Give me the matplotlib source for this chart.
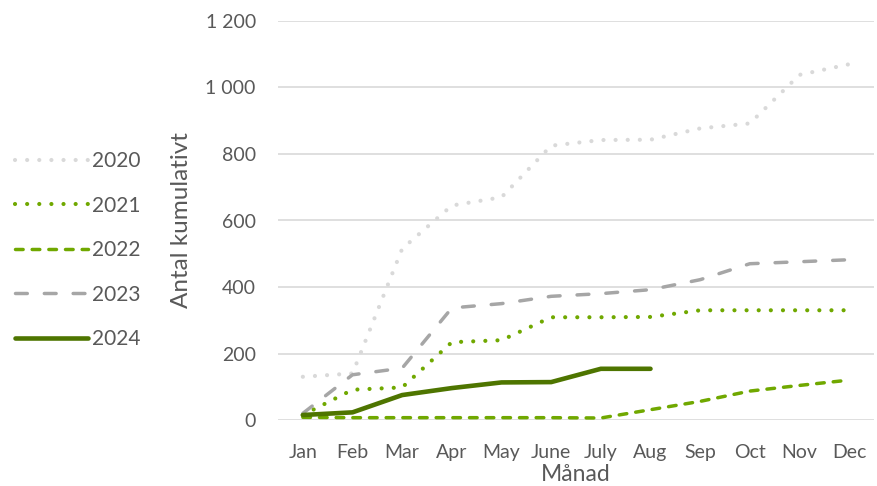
import matplotlib.pyplot as plt
from matplotlib.ticker import FuncFormatter

plt.rcParams['font.family'] = ['Lato', 'DejaVu Sans']

# data
months = ["Jan", "Feb", "Mar", "Apr", "May", "June", "July", "Aug", "Sep", "Oct", "Nov", "Dec"]
y2020 = [130, 140, 515, 645, 670, 825, 842, 843, 877, 892, 1038, 1070]
y2021 = [15, 91, 98, 234, 240, 309, 309, 310, 330, 330, 330, 330]
y2022 = [8, 7, 7, 7, 7, 7, 6, 31, 56, 87, 104, 120]
y2023 = [20, 136, 156, 337, 350, 372, 380, 392, 422, 470, 476, 482]
y2024 = [15, 23, 75, 96, 113, 114, 154, 154]

text_col = "#595959"
green = "#70A800"

fig = plt.figure(figsize=(8.77, 4.86), dpi=100)
ax = fig.add_axes([278 / 877, 66 / 486, 596 / 877, 399 / 486])

x = list(range(len(months)))
ax.plot(x, y2020, color="#D9D9D9", lw=3.0, linestyle=(0, (0.01, 2.9)),
        dash_capstyle="round", label="2020")
ax.plot(x, y2021, color=green, lw=3.0, linestyle=(0, (0.01, 2.9)),
        dash_capstyle="round", label="2021")
ax.plot(x, y2022, color=green, lw=2.5, linestyle=(0, (2.2, 2.6)),
        dash_capstyle="round", label="2022")
ax.plot(x, y2023, color="#A6A6A6", lw=2.5, linestyle=(0, (3.4, 4.9)),
        dash_capstyle="round", label="2023")
ax.plot(x[:len(y2024)], y2024, color="#4E7500", lw=3.3,
        solid_capstyle="round", label="2024")

ax.set_xlim(-0.5, 11.5)
ax.set_ylim(0, 1200)
ax.set_yticks(range(0, 1201, 200))
ax.yaxis.set_major_formatter(FuncFormatter(lambda v, p: f"{int(v):,}".replace(",", " ")))
ax.set_xticks(x)
ax.set_xticklabels(months)

for s in ax.spines.values():
    s.set_visible(False)
ax.grid(axis="y", color="#D9D9D9", lw=1.2)
ax.set_axisbelow(True)
ax.tick_params(length=0, labelsize=14, colors=text_col)
ax.tick_params(axis="y", pad=16)
ax.tick_params(axis="x", pad=17)

ax.set_ylabel("Antal kumulativt", fontsize=17.5, color=text_col, labelpad=10)
ax.set_xlabel("Månad", fontsize=16.5, color=text_col, labelpad=2.5)

leg = fig.legend(loc="upper left", bbox_to_anchor=(-0.004, 0.728), frameon=False,
                 fontsize=15, handlelength=3.5, handletextpad=0.2, labelspacing=1.18,
                 labelcolor=text_col)

plt.savefig("out.png", dpi=100)
